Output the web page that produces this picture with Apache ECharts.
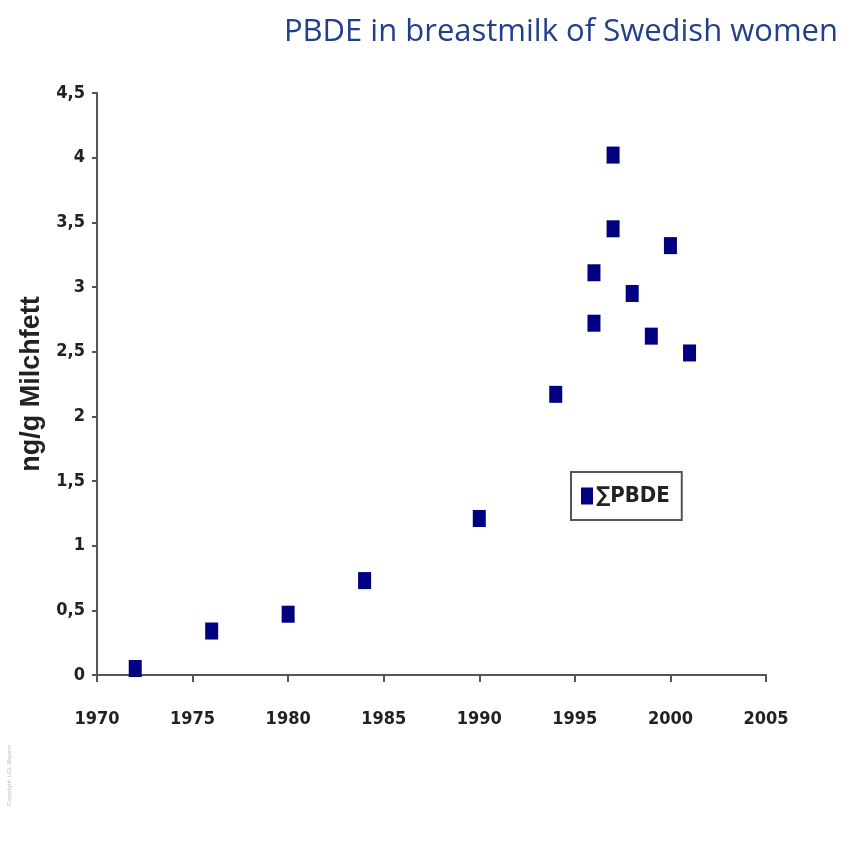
<!DOCTYPE html>
<html><head><meta charset="utf-8">
<script src="https://cdn.jsdelivr.net/npm/echarts@6/dist/echarts.min.js"></script>
<style>html,body{margin:0;padding:0;background:#fff}#c{width:855px;height:846px}</style>
</head><body><div id="c"></div>
<script>
const titleText = "PBDE in breastmilk of Swedish women";
const yAxisName = "ng/g Milchfett";
const seriesName = "∑PBDE";
const years  = [1972, 1976, 1980, 1984, 1990, 1994, 1996, 1996, 1997, 1997, 1998, 1999, 2000, 2001];
const values = [0.05, 0.34, 0.47, 0.73, 1.21, 2.17, 3.11, 2.72, 4.02, 3.45, 2.95, 2.62, 3.32, 2.49];
const xMin = 1970, xMax = 2005, xStep = 5;
const yMin = 0, yMax = 4.5, yStep = 0.5;

const chart = echarts.init(document.getElementById('c'));
const tickFont = {fontFamily: "DejaVu Sans Condensed", fontWeight: "bold", fontSize: 18, color: "#222"};
chart.setOption({
  animation: false,
  backgroundColor: "#fff",
  title: {
    text: titleText, right: 12, top: 12,
    textStyle: {fontFamily: "Open Sans", fontWeight: "normal", fontSize: 31, color: "#22408a"}
  },
  grid: {left: 97, right: 89, top: 93, bottom: 171},
  legend: {
    left: 571, top: 472, orient: "vertical",
    data: [{name: seriesName, icon: "rect"}],
    itemWidth: 12, itemHeight: 17, itemGap: 0,
    padding: [13, 12, 13, 10],
    borderColor: "#555", borderWidth: 2,
    textStyle: {fontFamily: "DejaVu Sans Condensed", fontWeight: "bold", fontSize: 22, color: "#222", padding: [0,0,0,-2]}
  },
  xAxis: {
    type: "value", min: xMin, max: xMax, interval: xStep,
    splitLine: {show: false},
    axisLine: {lineStyle: {color: "#555", width: 2}},
    axisTick: {length: 7, lineStyle: {color: "#555", width: 2}},
    axisLabel: Object.assign({margin: 35, formatter: v => String(v)}, tickFont)
  },
  yAxis: {
    type: "value", min: yMin, max: yMax, interval: yStep,
    name: yAxisName, nameLocation: "middle", nameGap: 52, nameRotate: 90,
    nameTextStyle: {fontFamily: "Liberation Sans", fontWeight: "bold", fontSize: 27, color: "#222"},
    splitLine: {show: false},
    axisLine: {show: true, lineStyle: {color: "#555", width: 2}},
    axisTick: {show: true, length: 5, lineStyle: {color: "#555", width: 2}},
    axisLabel: Object.assign({margin: 12, formatter: v => String(v).replace('.', ',')}, tickFont)
  },
  series: [{
    name: seriesName, type: "scatter", symbol: "rect", symbolSize: [13, 17],
    itemStyle: {color: "#000080", opacity: 1},
    data: years.map((y, i) => [y, values[i]])
  }],
  graphic: [{
    type: "text", left: 6, top: 745, rotation: Math.PI/2,
    style: {text: "Copyright: LGL Bayern", fontSize: 6, fill: "#bbb", fontFamily: "Liberation Sans"}
  }]
});
</script></body></html>
